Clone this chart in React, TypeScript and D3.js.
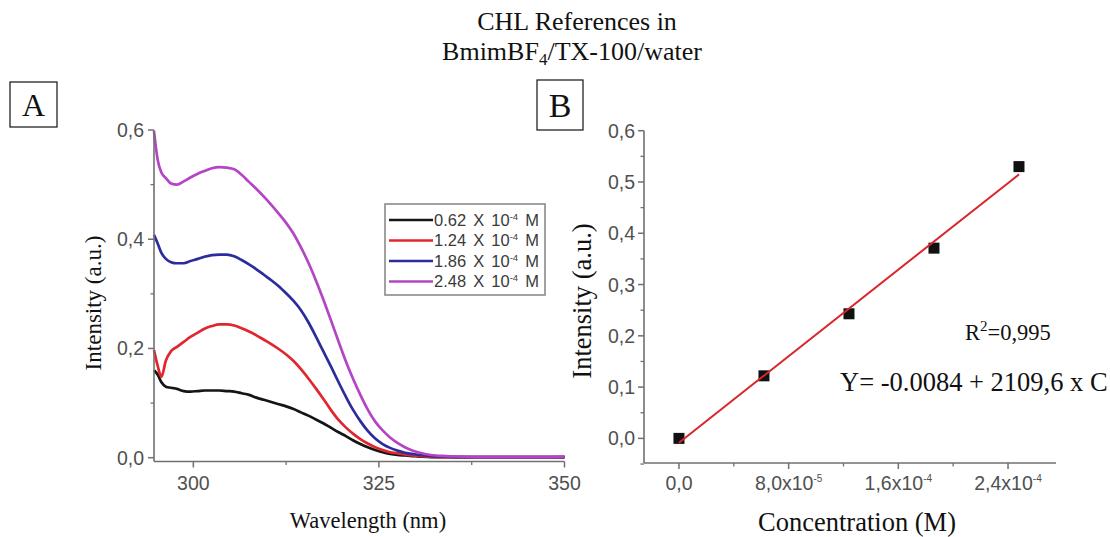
import React from "react";
import * as d3 from "d3";

// ---------- Panel A data (wavelength scan) ----------
const wavelengths = [
  294.7, 295.2, 295.7, 296.3, 297, 297.8, 298.7, 299.6, 300.6, 301.5, 302.5, 303.5, 304.5, 305.5,
  306.5, 307.5, 308.5, 309.5, 310.5, 311.5, 312.5, 313.5, 314.5, 315.5, 316.5, 317.5, 318.5, 319.5,
  320.5, 321.5, 322.5, 323.5, 324.5, 325.5, 326.5, 327.5, 328.5, 329.5, 330.5, 332, 334, 336, 339,
  343, 347, 350,
];
const conc062 = [
  0.16, 0.152, 0.138, 0.13, 0.128, 0.126, 0.122, 0.121, 0.122, 0.123, 0.123, 0.123, 0.122, 0.121,
  0.118, 0.115, 0.11, 0.106, 0.102, 0.098, 0.094, 0.089, 0.083, 0.077, 0.07, 0.063, 0.055, 0.047,
  0.04, 0.032, 0.025, 0.019, 0.014, 0.01, 0.007, 0.005, 0.004, 0.003, 0.002, 0.001, 0.001, 0.001,
  0.001, 0.001, 0.001, 0.001,
];
const conc124 = [
  0.197, 0.168, 0.148, 0.178, 0.195, 0.203, 0.212, 0.221, 0.229, 0.236, 0.241, 0.244, 0.244, 0.242,
  0.237, 0.231, 0.224, 0.216, 0.208, 0.199, 0.189, 0.177, 0.162, 0.145, 0.127, 0.108, 0.088, 0.07,
  0.056, 0.044, 0.034, 0.026, 0.019, 0.014, 0.01, 0.008, 0.006, 0.004, 0.003, 0.002, 0.001, 0.001,
  0.001, 0.001, 0.001, 0.001,
];
const conc186 = [
  0.408, 0.392, 0.375, 0.364, 0.358, 0.356, 0.356, 0.36, 0.364, 0.368, 0.371, 0.372, 0.372, 0.369,
  0.362, 0.354, 0.345, 0.335, 0.325, 0.314, 0.301, 0.287, 0.27, 0.248, 0.222, 0.195, 0.168, 0.14,
  0.113, 0.088, 0.067, 0.049, 0.035, 0.025, 0.018, 0.013, 0.009, 0.007, 0.005, 0.003, 0.002, 0.001,
  0.001, 0.001, 0.001, 0.001,
];
const conc248 = [
  0.598, 0.545, 0.522, 0.512, 0.502, 0.5, 0.506, 0.513, 0.52, 0.525, 0.53, 0.532, 0.531, 0.528,
  0.518, 0.505, 0.492, 0.478, 0.463, 0.447, 0.43, 0.41, 0.385, 0.357, 0.325, 0.29, 0.253, 0.215,
  0.178, 0.145, 0.115, 0.088, 0.066, 0.05, 0.037, 0.027, 0.019, 0.013, 0.009, 0.005, 0.003, 0.002,
  0.001, 0.001, 0.001, 0.002,
];
const seriesA = [conc062, conc124, conc186, conc248];
const legendLabels = ["0.62", "1.24", "1.86", "2.48"];
const seriesColors = ["#151515", "#e0262e", "#2c2c9c", "#b445c4"];
const aXTicks = [300, 325, 350];
const aXMinor = [312.5, 337.5];
const aYTicks = [0, 0.2, 0.4, 0.6];
const aYMinor = [0.1, 0.3, 0.5];

// ---------- Panel B data (calibration) ----------
const concentrations = [0, 0.62e-4, 1.24e-4, 1.86e-4, 2.48e-4];
const intensities = [0, 0.122, 0.243, 0.371, 0.53];
const fitIntercept = -0.0084;
const fitSlope = 2109.6;
const bXTicks = [0, 8e-5, 1.6e-4, 2.4e-4];
const bXTickBase = ["0,0", "8,0x10", "1,6x10", "2,4x10"];
const bXTickExp = ["", "-5", "-4", "-4"];
const bXMinor = [4e-5, 1.2e-4, 2.0e-4];
const bYTicks = [0, 0.1, 0.2, 0.3, 0.4, 0.5, 0.6];
const bYMinor = [-0.05, 0.05, 0.15, 0.25, 0.35, 0.45, 0.55];

const fmt = (v: number) => v.toFixed(1).replace(".", ",");

const SANS = "'Liberation Sans', Arial, sans-serif";
const SERIF = "'Liberation Serif', 'Times New Roman', serif";
const AXIS = "#707070";
const TICKTXT = "#505050";
const TICKSIZE = 19.5;

export default function App() {
  // Panel A scales
  const xA = d3.scaleLinear().domain([294.7, 350]).range([154, 564.5]);
  const yA = d3.scaleLinear().domain([0, 0.6]).range([457.7, 130]);
  const aAxisY = 461.5;
  const aAxisX = 154;

  const lineA = d3
    .line<number>()
    .x((_, i) => xA(wavelengths[i]))
    .y((d) => yA(d))
    .curve(d3.curveMonotoneX);

  // Panel B scales
  const xB = d3.scaleLinear().domain([-2.55e-5, 2.75e-4]).range([644, 1056]);
  const yB = d3.scaleLinear().domain([-0.048, 0.6]).range([463, 130.7]);
  const bAxisY = 463;
  const bAxisX = 644;

  const fitX0 = concentrations[0];
  const fitX1 = concentrations[concentrations.length - 1];

  const legendX = 385;
  const legendY = 204;
  const legendRow = 20.5;

  return (
    <svg
      width={1110}
      height={537}
      style={{ position: "absolute", left: 0, top: 0, background: "#fff" }}
    >
      <rect x={0} y={0} width={1110} height={537} fill="#fff" />

      {/* Title */}
      <text x={577} y={30} textAnchor="middle" fontFamily={SERIF} fontSize={26} fill="#111">
        CHL References in
      </text>
      <text x={572} y={60} textAnchor="middle" fontFamily={SERIF} fontSize={26} fill="#111">
        <tspan>BmimBF</tspan>
        <tspan fontSize={17} dy={5}>4</tspan>
        <tspan dy={-5}>/TX-100/water</tspan>
      </text>

      {/* Panel labels */}
      <rect x={10} y={82} width={47} height={45} fill="none" stroke="#111" strokeWidth={1.2} />
      <text x={33.5} y={116} textAnchor="middle" fontFamily={SERIF} fontSize={32} fill="#111">
        A
      </text>
      <rect x={537} y={80} width={46} height={50} fill="none" stroke="#111" strokeWidth={1.2} />
      <text x={560} y={117} textAnchor="middle" fontFamily={SERIF} fontSize={34} fill="#111">
        B
      </text>

      {/* ---------- Panel A ---------- */}
      <g>
        {seriesA.map((s, i) => (
          <path
            key={i}
            d={lineA(s) || ""}
            fill="none"
            stroke={seriesColors[i]}
            strokeWidth={2.7}
            strokeLinejoin="round"
          />
        ))}
        {/* axes */}
        <line x1={aAxisX} x2={aAxisX} y1={yA(0.6)} y2={aAxisY} stroke={AXIS} strokeWidth={1.6} />
        <line x1={aAxisX} x2={xA(350)} y1={aAxisY} y2={aAxisY} stroke={AXIS} strokeWidth={1.6} />
        {aYTicks.map((t) => (
          <g key={"ay" + t}>
            <line x1={aAxisX - 6} x2={aAxisX} y1={yA(t)} y2={yA(t)} stroke={AXIS} strokeWidth={1.5} />
            <text
              x={aAxisX - 10}
              y={yA(t)}
              dy="0.36em"
              textAnchor="end"
              fontFamily={SANS}
              fontSize={TICKSIZE}
              fill={TICKTXT}
            >
              {fmt(t)}
            </text>
          </g>
        ))}
        {aYMinor.map((t) => (
          <line
            key={"aym" + t}
            x1={aAxisX - 3.5}
            x2={aAxisX}
            y1={yA(t)}
            y2={yA(t)}
            stroke={AXIS}
            strokeWidth={1.3}
          />
        ))}
        {aXTicks.map((t) => (
          <g key={"ax" + t}>
            <line x1={xA(t)} x2={xA(t)} y1={aAxisY} y2={aAxisY + 6} stroke={AXIS} strokeWidth={1.5} />
            <text
              x={xA(t)}
              y={490}
              textAnchor="middle"
              fontFamily={SANS}
              fontSize={TICKSIZE}
              fill={TICKTXT}
            >
              {t}
            </text>
          </g>
        ))}
        {aXMinor.map((t) => (
          <line
            key={"axm" + t}
            x1={xA(t)}
            x2={xA(t)}
            y1={aAxisY}
            y2={aAxisY + 3.5}
            stroke={AXIS}
            strokeWidth={1.3}
          />
        ))}
        <text
          transform="translate(101,303) rotate(-90)"
          textAnchor="middle"
          fontFamily={SERIF}
          fontSize={23}
          fill="#111"
        >
          Intensity (a.u.)
        </text>
        <text x={368} y={528} textAnchor="middle" fontFamily={SERIF} fontSize={22.5} fill="#111">
          Wavelength (nm)
        </text>

        {/* legend */}
        <rect
          x={legendX}
          y={legendY}
          width={160}
          height={91}
          fill="#fff"
          stroke="#8a8a8a"
          strokeWidth={1.6}
        />
        {legendLabels.map((lab, i) => {
          const cy = legendY + 16 + i * legendRow;
          return (
            <g key={"lg" + i}>
              <line
                x1={legendX + 4}
                x2={legendX + 48}
                y1={cy}
                y2={cy}
                stroke={seriesColors[i]}
                strokeWidth={2.7}
              />
              <text
                x={legendX + 49}
                y={cy}
                dy="0.36em"
                fontFamily={SANS}
                fontSize={16.5}
                fill="#3a3a3a"
                wordSpacing={2.5}
              >
                <tspan>{lab} X 10</tspan>
                <tspan fontSize={9.5} dy={-6}>-4</tspan>
                <tspan dy={6}> M</tspan>
              </text>
            </g>
          );
        })}
      </g>

      {/* ---------- Panel B ---------- */}
      <g>
        <line x1={bAxisX} x2={bAxisX} y1={yB(0.6)} y2={bAxisY} stroke={AXIS} strokeWidth={1.6} />
        <line x1={bAxisX} x2={1056} y1={bAxisY} y2={bAxisY} stroke={AXIS} strokeWidth={1.6} />
        {bYTicks.map((t) => (
          <g key={"by" + t}>
            <line x1={bAxisX - 6} x2={bAxisX} y1={yB(t)} y2={yB(t)} stroke={AXIS} strokeWidth={1.5} />
            <text
              x={bAxisX - 9}
              y={yB(t)}
              dy="0.36em"
              textAnchor="end"
              fontFamily={SANS}
              fontSize={TICKSIZE}
              fill={TICKTXT}
            >
              {fmt(t)}
            </text>
          </g>
        ))}
        {bYMinor.map((t) => (
          <line
            key={"bym" + t}
            x1={bAxisX - 3.5}
            x2={bAxisX}
            y1={yB(t)}
            y2={yB(t)}
            stroke={AXIS}
            strokeWidth={1.3}
          />
        ))}
        {bXTicks.map((t, i) => (
          <g key={"bx" + i}>
            <line x1={xB(t)} x2={xB(t)} y1={bAxisY} y2={bAxisY + 6} stroke={AXIS} strokeWidth={1.5} />
            <text
              x={xB(t)}
              y={490}
              textAnchor="middle"
              fontFamily={SANS}
              fontSize={TICKSIZE}
              fill={TICKTXT}
            >
              <tspan>{bXTickBase[i]}</tspan>
              {bXTickExp[i] ? (
                <tspan fontSize={10} dy={-8}>
                  {bXTickExp[i]}
                </tspan>
              ) : null}
            </text>
          </g>
        ))}
        {bXMinor.map((t) => (
          <line
            key={"bxm" + t}
            x1={xB(t)}
            x2={xB(t)}
            y1={bAxisY}
            y2={bAxisY + 3.5}
            stroke={AXIS}
            strokeWidth={1.3}
          />
        ))}
        {concentrations.map((c, i) => (
          <rect
            key={"pt" + i}
            x={xB(c) - 5.5}
            y={yB(intensities[i]) - 5.5}
            width={11}
            height={11}
            fill="#111"
          />
        ))}
        <line
          x1={xB(fitX0)}
          y1={yB(fitIntercept + fitSlope * fitX0)}
          x2={xB(fitX1)}
          y2={yB(fitIntercept + fitSlope * fitX1)}
          stroke="#d8262c"
          strokeWidth={2}
        />
        <text
          transform="translate(591,301) rotate(-90)"
          textAnchor="middle"
          fontFamily={SERIF}
          fontSize={26.5}
          fill="#111"
        >
          Intensity (a.u.)
        </text>
        <text x={857} y={531} textAnchor="middle" fontFamily={SERIF} fontSize={26.5} fill="#111">
          Concentration (M)
        </text>
        <text x={965} y={340} fontFamily={SERIF} fontSize={22.5} fill="#111">
          <tspan>R</tspan>
          <tspan fontSize={15} dy={-9}>2</tspan>
          <tspan dy={9}>=0,995</tspan>
        </text>
        <text x={840} y={391} fontFamily={SERIF} fontSize={26.5} fill="#111">
          Y= -0.0084 + 2109,6 x C
        </text>
      </g>
    </svg>
  );
}
